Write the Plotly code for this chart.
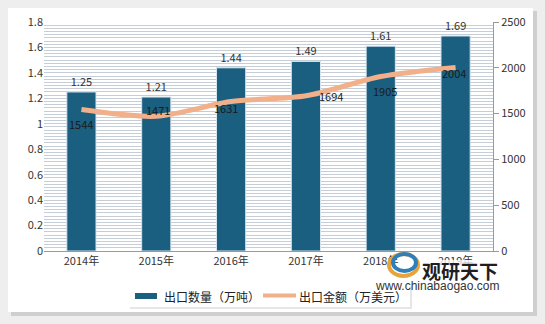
import plotly.graph_objects as go

years = ["2014年", "2015年", "2016年", "2017年", "2018年", "2019年"]
volume = [1.25, 1.21, 1.44, 1.49, 1.61, 1.69]
amount = [1544, 1471, 1631, 1694, 1905, 2004]
vol_name = "出口数量（万吨）"
amt_name = "出口金额（万美元）"
left_ticks = [0, 0.2, 0.4, 0.6, 0.8, 1, 1.2, 1.4, 1.6, 1.8]
right_ticks = [0, 500, 1000, 1500, 2000, 2500]

FONT = "Noto Sans CJK SC"
BAR_C = "#1b5f80"
LINE_C = "#f2b08a"
L, R, T, B = 44, 52, 22, 73
W, H = 545, 324
PW, PH = W - L - R, H - T - B


def px(x):
    return (x - L) / PW


def py(y):
    return (H - B - y) / PH


fig = go.Figure()

fig.add_trace(go.Bar(
    x=years, y=volume, name=vol_name, width=0.39,
    marker=dict(color=BAR_C, line=dict(color="#d6e4ee", width=1)),
    text=[f"{v:.2f}" for v in volume], textposition="outside",
    textfont=dict(size=11, color="#333333", family=FONT),
    cliponaxis=False, showlegend=False,
))
fig.add_trace(go.Scatter(
    x=years, y=amount, name=amt_name, yaxis="y2", mode="lines",
    line=dict(color=LINE_C, width=5, shape="spline", smoothing=0.8),
    showlegend=False,
))

# line value labels
shifts = [(0, -14), (2, 6), (-5, -6), (25, 0), (4, -14), (-2, -6)]
for yr, v, (dx, dy) in zip(years, amount, shifts):
    fig.add_annotation(x=yr, y=v, yref="y2", text=str(v), showarrow=False,
                       xshift=dx, yshift=dy,
                       font=dict(size=11, color="#1a1a1a", family=FONT))

# white panel with shadow
fig.add_shape(type="rect", xref="paper", yref="paper", x0=px(11), x1=px(537), y0=py(316), y1=py(11),
              fillcolor="#cfcfcf", line_width=0, layer="below")
fig.add_shape(type="rect", xref="paper", yref="paper", x0=px(8), x1=px(533), y0=py(312), y1=py(8),
              fillcolor="white", line_width=0, layer="below")

# custom legend
fig.add_shape(type="rect", xref="paper", yref="paper", x0=px(130), x1=px(412), y0=py(309), y1=py(286),
              fillcolor="#e6e6e6", line_width=0, layer="below")
fig.add_shape(type="rect", xref="paper", yref="paper", x0=px(128), x1=px(410), y0=py(307), y1=py(284),
              fillcolor="white", line_width=0, layer="below")
fig.add_shape(type="rect", xref="paper", yref="paper", x0=px(135), x1=px(157), y0=py(299), y1=py(293),
              fillcolor=BAR_C, line_width=0)
fig.add_shape(type="line", xref="paper", yref="paper", x0=px(263), x1=px(296), y0=py(295.5), y1=py(295.5),
              line=dict(color=LINE_C, width=4))
fig.add_annotation(xref="paper", yref="paper", x=px(162), y=py(296), text=vol_name, showarrow=False,
                   xanchor="left", yanchor="middle", font=dict(size=12, color="#222222", family=FONT))
fig.add_annotation(xref="paper", yref="paper", x=px(297), y=py(296), text=amt_name, showarrow=False,
                   xanchor="left", yanchor="middle", font=dict(size=12, color="#222222", family=FONT))

# watermark (semi-opaque, partly covering the last axis label as in the reference)
fig.add_shape(type="rect", xref="paper", yref="paper", x0=px(420), x1=px(500), y0=py(279), y1=py(260),
              fillcolor="rgba(255,255,255,0.75)", line_width=0)
fig.add_shape(type="circle", xref="paper", yref="paper", x0=px(389), x1=px(418), y0=py(276), y1=py(254),
              fillcolor="rgba(0,0,0,0)", line=dict(color="#e8a33a", width=4))
fig.add_shape(type="circle", xref="paper", yref="paper", x0=px(393), x1=px(416), y0=py(271), y1=py(254),
              fillcolor="rgba(0,0,0,0)", line=dict(color="#2f7fb8", width=4))
fig.add_annotation(xref="paper", yref="paper", x=px(500), y=py(270), text="<b>观研天下</b>",
                   showarrow=False, xanchor="right", yanchor="middle",
                   font=dict(size=19, color="#1f1f1f", family=FONT))
fig.add_annotation(xref="paper", yref="paper", x=px(501), y=py(286), text="www.chinabaogao.com",
                   showarrow=False, xanchor="right", yanchor="middle",
                   font=dict(size=12, color="#333333", family="Liberation Sans"))

fig.update_layout(
    width=W, height=H,
    margin=dict(l=L, r=R, t=T, b=B, autoexpand=False),
    paper_bgcolor="#eeeeee", plot_bgcolor="#eef3f7",
    font=dict(family=FONT, size=11, color="#333333"),
    showlegend=False,
    bargap=0.6,
    xaxis=dict(showline=True, linecolor="#9a9a9a", linewidth=1, ticks="",
               tickfont=dict(size=11, color="#333333"), showgrid=False),
    yaxis=dict(range=[0, 1.8], tickvals=left_ticks, ticktext=[f"{t:g}" for t in left_ticks],
               showgrid=True, gridcolor="#c5ced6", gridwidth=1,
               minor=dict(dtick=0.025, showgrid=True, gridcolor="#c5ced6", gridwidth=1),
               zeroline=False, showline=False, tickfont=dict(size=11, color="#333333")),
    yaxis2=dict(range=[0, 2500], tickvals=right_ticks, overlaying="y", side="right",
                showgrid=False, zeroline=False, showline=True, linecolor="#9a9a9a",
                ticks="outside", ticklen=5, tickcolor="#9a9a9a",
                tickfont=dict(size=11, color="#333333")),
)

fig.write_html("out.html")
